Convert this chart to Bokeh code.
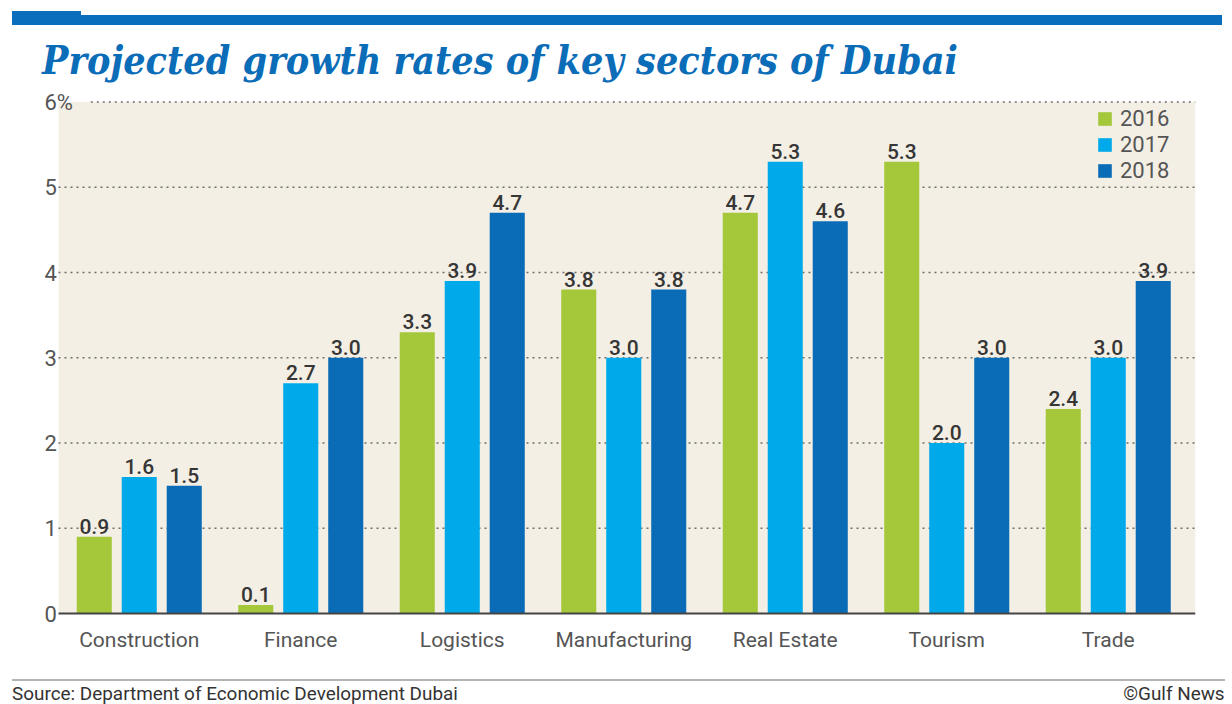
from bokeh.plotting import figure
from bokeh.models import (ColumnDataSource, Range1d, FixedTicker, LabelSet,
                          Legend, LegendItem, Div)
from bokeh.layouts import column
from bokeh.transform import dodge
from bokeh.core.properties import value
from bokeh.embed import file_html
from bokeh.resources import INLINE

# ---------------- data ----------------
categories = ["Construction", "Finance", "Logistics", "Manufacturing",
              "Real Estate", "Tourism", "Trade"]
years = ["2016", "2017", "2018"]
growth_2016 = [0.9, 0.1, 3.3, 3.8, 4.7, 5.3, 2.4]
growth_2017 = [1.6, 2.7, 3.9, 3.0, 5.3, 2.0, 3.0]
growth_2018 = [1.5, 3.0, 4.7, 3.8, 4.6, 3.0, 3.9]
y_ticks = [0, 1, 2, 3, 4, 5, 6]
y_tick_labels = ["0", "1", "2", "3", "4", "5", "6%"]

title_text = "Projected growth rates of key sectors of Dubai"
source_text = "Source: Department of Economic Development Dubai"
credit_text = "\u00a9Gulf News"

colors = ["#a4c83a", "#00aaea", "#0a6cb6"]
series = [growth_2016, growth_2017, growth_2018]
offsets = [-0.2786, 0.0, 0.2786]

BEIGE = "#f4efe5"
BLUE = "#0b6cb8"
GRID = "#6e6e6e"
LABEL_FONT = "Roboto"
VALUE_FONT = "'Roboto Medium', Roboto"

HEADER_H = 90
FOOTER_H = 32
W = 1232
FIG_H = 704 - HEADER_H - FOOTER_H

# ---------------- header ----------------
header = Div(width=W, height=HEADER_H, margin=0, text=f"""
<div style="position:relative;width:{W}px;height:{HEADER_H}px;overflow:hidden;background:white;">
  <div style="position:absolute;left:12px;top:15px;width:1210px;height:10px;background:#0a6ebd;"></div>
  <div style="position:absolute;left:12px;top:11px;width:69px;height:5px;background:#0a6ebd;"></div>
  <div style="position:absolute;left:42px;top:40px;line-height:40px;white-space:nowrap;
              font-family:'DejaVu Serif';font-weight:bold;font-style:italic;font-size:40px;
              transform:scaleX(0.88);transform-origin:0 0;
              color:{BLUE};">{title_text}</div>
</div>""")

# ---------------- chart ----------------
# geometry: frame from x=44 to 1195 px, category pitch 161.5 px,
# value 0 at y=613 and 6 at y=101.5 (85.25 px per unit); frame bottom at 626
PX_X = 161.5
PX_Y = 85.25
FRAME_BOTTOM = 626
x_start = -0.5 - 14 / PX_X
x_end = x_start + (1195 - 44) / PX_X
y_end = 6 + (101.5 - HEADER_H) / PX_Y
y_start = -(FRAME_BOTTOM - 613) / PX_Y

xs = list(range(len(categories)))
data = {"x": xs}
for yr, vals in zip(years, series):
    data["y" + yr] = vals
    data["t" + yr] = [f"{v:.1f}" for v in vals]
src = ColumnDataSource(data)

p = figure(width=W, height=FIG_H, output_backend="svg", toolbar_location=None,
           x_range=Range1d(x_start, x_end), y_range=Range1d(y_start, y_end),
           min_border_left=44, min_border_right=W - 1195, min_border_top=0,
           min_border_bottom=FIG_H - (FRAME_BOTTOM - HEADER_H))
p.background_fill_color = "white"
p.border_fill_color = "white"
p.outline_line_color = None
p.xgrid.visible = False
p.ygrid.visible = False

# beige plotting area (from the first category slot to the right edge, up to the 6% line)
p.quad(left=[-0.5], right=[x_end], bottom=[0], top=[y_ticks[-1]],
       fill_color=BEIGE, line_color=None)

# dotted grid lines
p.segment(x0=[-0.5] * 5, x1=[x_end] * 5, y0=y_ticks[1:-1], y1=y_ticks[1:-1],
          line_color=GRID, line_dash="2 4", line_width=1.3)
p.segment(x0=[-0.3], x1=[x_end], y0=[y_ticks[-1]], y1=[y_ticks[-1]],
          line_color=GRID, line_dash="2 4", line_width=1.3)

legend_items = []
for yr, col, off in zip(years, colors, offsets):
    r = p.vbar(x=dodge("x", off), top="y" + yr, width=0.217, source=src,
               fill_color=col, line_color=None)
    legend_items.append(LegendItem(label=yr, renderers=[r]))
    p.add_layout(LabelSet(x=dodge("x", off), y="y" + yr, text="t" + yr, source=src,
                          text_align="center", text_baseline="bottom", y_offset=3,
                          text_font=value(VALUE_FONT), text_font_size="21px",
                          text_color="#363636"))

# baseline (zero line)
p.segment(x0=[-0.5], x1=[x_end], y0=[0], y1=[0], line_color="#444444", line_width=1.8)

# y tick labels, left aligned as in the original
p.text(x=[x_start] * len(y_ticks), y=y_ticks, text=y_tick_labels,
       text_align="left", text_baseline="middle", text_font=value(LABEL_FONT),
       text_font_size="22px", text_color="#555555")

# x axis (category names)
p.yaxis.visible = False
xa = p.xaxis[0]
xa.ticker = FixedTicker(ticks=xs)
xa.major_label_overrides = {i: c for i, c in enumerate(categories)}
xa.axis_line_color = None
xa.major_tick_line_color = None
xa.minor_tick_line_color = None
xa.major_label_standoff = 8 - (FRAME_BOTTOM - 613)
xa.major_label_text_font = LABEL_FONT
xa.major_label_text_font_size = "21px"
xa.major_label_text_color = "#555555"

# legend
legend = Legend(items=legend_items, location=(1052, 430 + (FRAME_BOTTOM - 613)),
                orientation="vertical",
                glyph_width=17, glyph_height=17, label_height=26, spacing=0,
                label_standoff=7, padding=0, margin=0,
                label_text_font=LABEL_FONT, label_text_font_size="22px",
                label_text_color="#555555", background_fill_alpha=0,
                border_line_color=None)
p.add_layout(legend)

# ---------------- footer ----------------
footer = Div(width=W, height=FOOTER_H, margin=0, text=f"""
<div style="position:relative;width:{W}px;height:{FOOTER_H}px;overflow:hidden;background:white;
            font-family:'{LABEL_FONT}';font-size:18px;color:#333333;">
  <div style="position:absolute;left:12px;top:7px;width:1213px;height:2px;background:#b4b4b4;"></div>
  <div style="position:absolute;left:12px;top:12px;line-height:19px;white-space:nowrap;
              transform:scaleX(1.05);transform-origin:0 0;">{source_text}</div>
  <div style="position:absolute;right:7px;top:12px;line-height:19px;white-space:nowrap;
              transform:scaleX(1.05);transform-origin:100% 0;">{credit_text}</div>
</div>""")

layout = column(header, p, footer, spacing=0, margin=0)
open("out.html", "w").write(file_html(layout, INLINE))
